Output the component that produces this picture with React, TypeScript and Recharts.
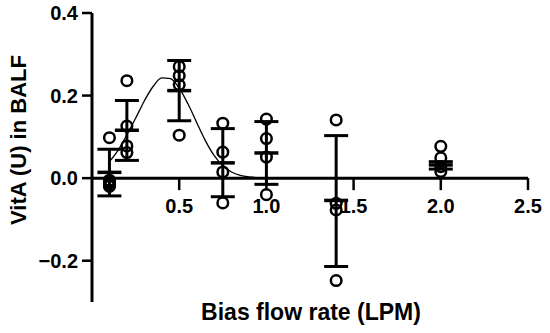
import { ComposedChart, Line, Scatter, ErrorBar, XAxis, YAxis, ReferenceLine } from 'recharts'

// bias flow rate groups (LPM)
const flowRates = [0.1, 0.2, 0.5, 0.75, 1.0, 1.4, 2.0]

// individual animals per group
const replicateValues = [
  [0.098, -0.005, -0.01, -0.015, -0.02],
  [0.236, 0.126, 0.078, 0.062],
  [0.27, 0.248, 0.226, 0.104],
  [0.133, 0.063, 0.015, -0.06],
  [0.143, 0.096, 0.051, -0.04],
  [0.141, -0.061, -0.077, -0.248],
  [0.077, 0.049, 0.028, 0.016],
]

// mean and error bar ends
const meanValues = [0.014, 0.116, 0.212, 0.037, 0.061, -0.054, 0.032]
const upperValues = [0.07, 0.188, 0.285, 0.12, 0.137, 0.103, 0.04]
const lowerValues = [-0.043, 0.043, 0.139, -0.045, -0.015, -0.214, 0.022]

// fitted curve
const fitX = [0.1, 0.15, 0.2, 0.25, 0.3, 0.35, 0.4, 0.45, 0.5, 0.55, 0.6, 0.65, 0.7, 0.75, 0.8, 0.85, 0.9, 0.95, 1.0]
const fitY = [0.04, 0.068, 0.105, 0.145, 0.187, 0.222, 0.243, 0.241, 0.218, 0.18, 0.135, 0.091, 0.055, 0.03, 0.015, 0.007, 0.003, 0.001, 0]

const xTicks = [0.5, 1.0, 1.5, 2.0, 2.5]
const yTicks = [-0.2, 0, 0.2, 0.4]

const FONT = '"Liberation Sans", Arial, sans-serif'

const points = flowRates.flatMap((x, i) => replicateValues[i].map((y) => ({ x, y })))
const means = flowRates.map((x, i) => ({
  x,
  y: meanValues[i],
  err: [meanValues[i] - lowerValues[i], upperValues[i] - meanValues[i]],
}))
const fit = fitX.map((x, i) => ({ x, y: fitY[i] }))
const tickData = xTicks.map((x) => ({ x, y: 0, label: x.toFixed(1) }))

const fmtY = (v: number) => v.toFixed(1).replace('-', '\u2212')

function MeanBar(props: any) {
  const { cx, cy } = props
  return <line x1={cx - 12} x2={cx + 12} y1={cy} y2={cy} stroke="#000" strokeWidth={3.5} />
}

function OpenCircle(props: any) {
  const { cx, cy } = props
  return <circle cx={cx} cy={cy} r={5.3} fill="none" stroke="#000" strokeWidth={2.5} />
}

function XTick(props: any) {
  const { cx, cy, payload } = props
  return (
    <g>
      <line x1={cx} x2={cx} y1={cy} y2={cy + 12} stroke="#000" strokeWidth={2.5} />
      <text x={cx} y={cy + 35} textAnchor="middle" fontFamily={FONT} fontWeight="bold" fontSize={20} fill="#000">
        {payload.label}
      </text>
    </g>
  )
}

export default function App() {
  return (
    <div style={{ position: 'absolute', left: 0, top: 0, background: '#fff' }}>
      <ComposedChart width={550} height={333} margin={{ top: 13, right: 22, bottom: 0, left: 0 }}>
        <XAxis
          type="number"
          dataKey="x"
          domain={[0, 2.5]}
          axisLine={false}
          tick={false}
          tickLine={false}
          height={31}
          label={{
            content: () => (
              <text x={311} y={320} textAnchor="middle" fontFamily={FONT} fontWeight="bold" fontSize={23} fill="#000">
                Bias flow rate (LPM)
              </text>
            ),
          }}
        />
        <YAxis
          type="number"
          dataKey="y"
          domain={[-0.3, 0.4]}
          ticks={yTicks}
          tickFormatter={fmtY}
          width={92}
          tickSize={10}
          tickMargin={4}
          axisLine={{ stroke: '#000', strokeWidth: 3 }}
          tickLine={{ stroke: '#000', strokeWidth: 2.5 }}
          tick={{ fill: '#000', fontFamily: FONT, fontWeight: 'bold', fontSize: 20 }}
          label={{
            content: () => (
              <text
                x={18}
                y={140}
                transform="rotate(-90 18 140)"
                textAnchor="middle"
                dominantBaseline="central"
                fontFamily={FONT}
                fontWeight="bold"
                fontSize={22}
                fill="#000"
              >
                VitA (U) in BALF
              </text>
            ),
          }}
        />
        <ReferenceLine y={0} stroke="#000" strokeWidth={3} />
        <Scatter data={tickData} dataKey="y" shape={<XTick />} isAnimationActive={false} />
        <Line
          data={fit}
          dataKey="y"
          type="monotone"
          stroke="#000"
          strokeWidth={1.3}
          dot={false}
          activeDot={false}
          isAnimationActive={false}
        />
        <Scatter data={means} dataKey="y" shape={<MeanBar />} isAnimationActive={false}>
          <ErrorBar dataKey="err" direction="y" width={12} stroke="#000" strokeWidth={3} isAnimationActive={false} />
        </Scatter>
        <Scatter data={points} dataKey="y" shape={<OpenCircle />} isAnimationActive={false} />
      </ComposedChart>
    </div>
  )
}
